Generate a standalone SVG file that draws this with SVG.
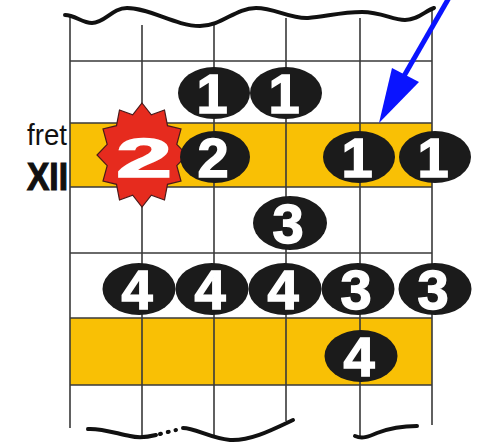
<svg xmlns="http://www.w3.org/2000/svg" width="491" height="444" viewBox="0 0 491 444">
<style>
.band{fill:#F9C005}
.grid{stroke:#3a3a3a;stroke-width:1.6;fill:none}
.wave{stroke:#111;stroke-width:4;fill:none;stroke-linecap:round}
.dot{fill:#1b1b1b}
.num{font-family:"Liberation Sans",Arial,sans-serif;font-weight:bold;font-size:56px;fill:#fff;stroke:#fff;stroke-width:1.5;text-anchor:middle}
.lbl{font-family:"Liberation Sans",Arial,sans-serif;fill:#111}
</style>
<rect width="491" height="444" fill="#fff"/>
<g id="grid">
<rect class="band" x="70" y="123" width="362" height="64"/>
<rect class="band" x="70" y="318" width="362" height="67"/>
<path class="grid" d="M70,61H432M70,123H432M70,187H432M70,253H432M70,318H432M70,385H432"/>
<path class="grid" d="M70,17V428M142,25V437M214,25V436M286,18V421M360,18V437M432,10V425"/>
<path class="wave" d="M65,15 C75,15 82,23 92,23 C105,23 112,8 127,8 C150,8 175,26 200,26 C222,26 235,8 256,8 C275,8 290,19 308,18 C325,17 340,12 362,12 C382,12 392,20 405,20 C418,20 425,11 434,8"/>
<path class="wave" stroke-width="3.5" d="M88,429 C100,428 115,433 130,436 C138,438 148,437 156,435"/>
<path class="wave" stroke-width="2" stroke-dasharray="1 7" d="M160,434 L176,430"/>
<path class="wave" stroke-width="3.5" d="M183,428 C195,428 210,438 230,440 C250,441 270,431 293,420"/>
<path class="wave" stroke-width="3.5" d="M355,436 C362,439 368,437 377,433 C390,428 400,426 417,426"/>
</g>
<g id="label-fret">
<text class="lbl" x="27" y="145" font-size="29" textLength="40" lengthAdjust="spacingAndGlyphs">fret</text>
<text class="lbl" x="27" y="190" font-size="39" font-weight="bold" stroke="#111" stroke-width="1.2" textLength="41" lengthAdjust="spacingAndGlyphs">XII</text>
</g>
<g id="n-r1-1"><ellipse class="dot" cx="214" cy="93" rx="36" ry="26"/><text class="num" x="212" y="113">1</text></g>
<g id="n-r1-2"><ellipse class="dot" cx="286" cy="93" rx="36" ry="26"/><text class="num" x="284" y="113">1</text></g>
<g id="n-star">
<polygon fill="#E62B1E" stroke="#4a1a1a" stroke-width="1.2" points="142,103 151.3,114.9 164.5,110 167.5,125.7 181,129 176.8,144.3 187,155 176.8,165.7 181,181 167.5,184.3 164.5,200 151.3,195.1 142,207 132.7,195.1 119.5,200 116.5,184.3 103,181 107.2,165.7 97,155 107.2,144.3 103,129 116.5,125.7 119.5,110 132.7,114.9"/>
<text class="num" font-size="64" stroke-width="3" transform="translate(144,177) scale(1.8,1)" x="0" y="0">2</text>
</g>
<g id="n-r2-2"><ellipse class="dot" cx="215" cy="157" rx="35" ry="26"/><text class="num" x="213" y="177">2</text></g>
<g id="n-r2-5"><ellipse class="dot" cx="359" cy="157" rx="36" ry="26"/><text class="num" x="357" y="177">1</text></g>
<g id="n-r2-6"><ellipse class="dot" cx="435" cy="157" rx="36" ry="26"/><text class="num" x="433" y="177">1</text></g>
<g id="n-r3-4"><ellipse class="dot" cx="290" cy="223" rx="37" ry="27"/><text class="num" x="288" y="243">3</text></g>
<g id="n-r4-2"><ellipse class="dot" cx="139" cy="289" rx="36.5" ry="26"/><text class="num" x="137" y="309">4</text></g>
<g id="n-r4-3"><ellipse class="dot" cx="212" cy="289" rx="36.5" ry="26"/><text class="num" x="210" y="309">4</text></g>
<g id="n-r4-4"><ellipse class="dot" cx="285" cy="289" rx="36.5" ry="26"/><text class="num" x="283" y="309">4</text></g>
<g id="n-r4-5"><ellipse class="dot" cx="358" cy="289" rx="36.5" ry="26"/><text class="num" x="356" y="309">3</text></g>
<g id="n-r4-6"><ellipse class="dot" cx="435" cy="289" rx="36.5" ry="26"/><text class="num" x="433" y="309">3</text></g>
<g id="n-r5-5"><ellipse class="dot" cx="361" cy="356" rx="36.5" ry="26"/><text class="num" x="359" y="376">4</text></g>
<g id="connectors">
<line x1="450" y1="-4" x2="404" y2="76" stroke="#0a14ff" stroke-width="5"/>
<polygon fill="#0a14ff" points="392,68 419,82 379,123"/>
</g>
</svg>
